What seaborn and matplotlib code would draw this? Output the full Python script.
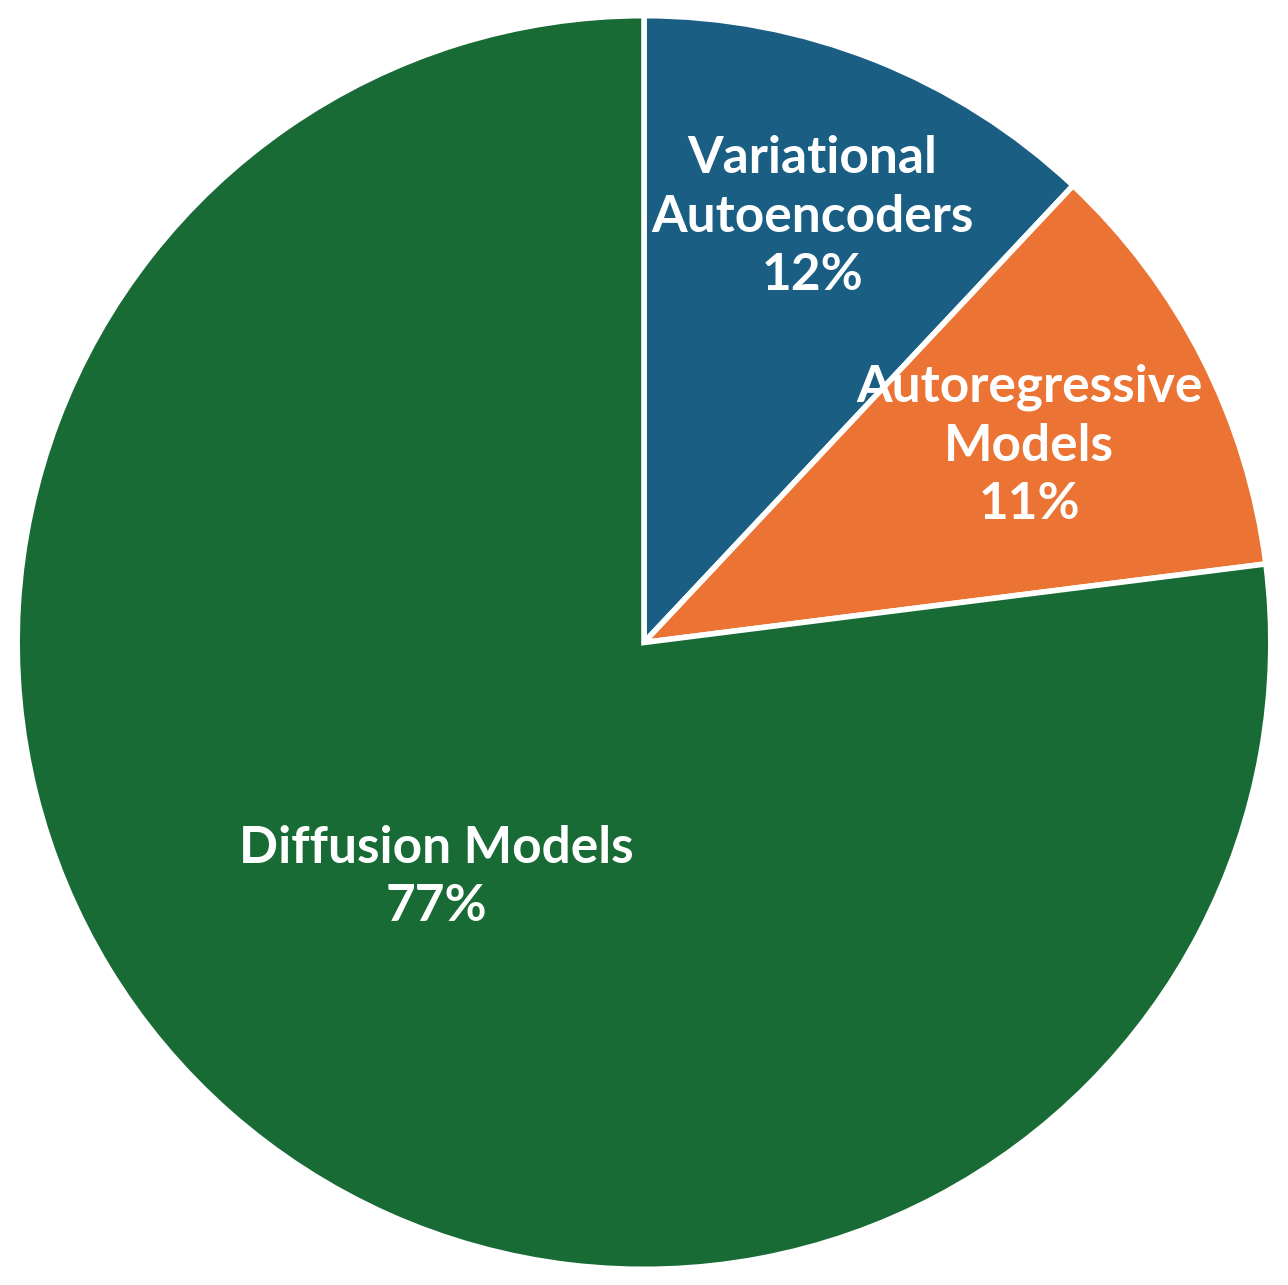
import numpy as np
import matplotlib.pyplot as plt
import seaborn as sns

sns.set_theme(style="white")
plt.rcParams['font.family'] = ['Lato', 'DejaVu Sans']

labels = ['Variational\nAutoencoders', 'Autoregressive\nModels', 'Diffusion Models']
shares = [12, 11, 77]
colors = ['#1a5f83', '#eb7333', '#196b36']
label_r = [0.73, 0.69, 0.50]

fig = plt.figure(figsize=(12.88, 12.85), dpi=100)
ax = fig.add_axes([0, 0, 1, 1])
wedges, _ = ax.pie(shares, colors=colors, startangle=90, counterclock=False,
                   wedgeprops=dict(edgecolor='white', linewidth=4))

for w, lab, val, r in zip(wedges, labels, shares, label_r):
    ang = np.deg2rad((w.theta1 + w.theta2) / 2)
    ax.text(r * np.cos(ang), r * np.sin(ang), f"{lab}\n{val}%", ha='center', va='center',
            color='white', fontsize=37, fontweight='bold', linespacing=1.3)

ax.set_xlim(-1.027, 1.027)
ax.set_ylim(-1.025, 1.025)
ax.axis('off')
plt.savefig('out.png', dpi=100, facecolor='white')
